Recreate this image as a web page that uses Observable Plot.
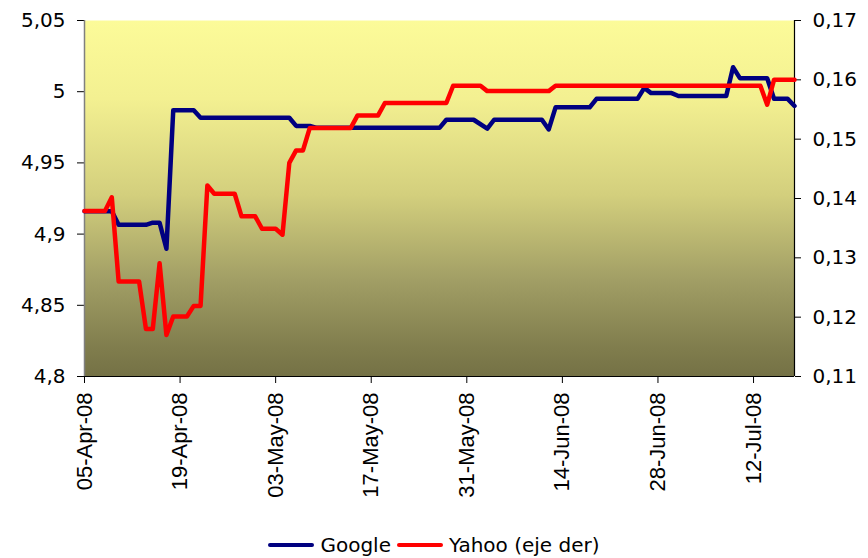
<!DOCTYPE html>
<html><head><meta charset="utf-8">
<script src="https://cdn.jsdelivr.net/npm/d3@7"></script>
<script src="https://cdn.jsdelivr.net/npm/@observablehq/plot@0.6"></script>
<style>
html,body{margin:0;padding:0;background:#fff;}
#chart svg{display:block}
.legend{display:flex;justify-content:center;align-items:center;height:50px;font-family:"DejaVu Sans";font-size:20px;color:#000;}
.item{display:flex;align-items:center;margin:0 3px}
.sw{display:inline-block;width:46px;height:4px;margin-right:6px;border-radius:2px}
</style></head><body>
<div id="chart"></div>
<div class="legend">
  <span class="item"><span class="sw" style="background:#000080"></span>Google</span>
  <span class="item"><span class="sw" style="background:#ff0000"></span>Yahoo (eje der)</span>
</div>
<script>
// ---- DATA ----
const googleDates = ["2008-04-05","2008-04-09","2008-04-10","2008-04-14","2008-04-15","2008-04-16","2008-04-17","2008-04-18","2008-04-21","2008-04-22","2008-05-05","2008-05-06","2008-05-08","2008-05-09","2008-05-27","2008-05-28","2008-06-01","2008-06-03","2008-06-04","2008-06-11","2008-06-12","2008-06-13","2008-06-18","2008-06-19","2008-06-25","2008-06-26","2008-06-27","2008-06-30","2008-07-01","2008-07-08","2008-07-09","2008-07-10","2008-07-14","2008-07-15","2008-07-17","2008-07-18"];
const googleValues = [4.916,4.916,4.9065,4.9065,4.908,4.908,4.8897,4.987,4.987,4.9817,4.9817,4.976,4.976,4.9746,4.9746,4.9803,4.9803,4.974,4.9803,4.9803,4.9735,4.989,4.989,4.995,4.995,5.0027,4.999,4.999,4.997,4.997,5.0172,5.0095,5.0095,4.995,4.995,4.990];
const yahooDates = ["2008-04-05","2008-04-08","2008-04-09","2008-04-10","2008-04-13","2008-04-14","2008-04-15","2008-04-16","2008-04-17","2008-04-18","2008-04-20","2008-04-21","2008-04-22","2008-04-23","2008-04-24","2008-04-27","2008-04-28","2008-04-30","2008-05-01","2008-05-03","2008-05-04","2008-05-05","2008-05-06","2008-05-07","2008-05-08","2008-05-14","2008-05-15","2008-05-18","2008-05-19","2008-05-28","2008-05-29","2008-06-02","2008-06-03","2008-06-12","2008-06-13","2008-07-13","2008-07-14","2008-07-15","2008-07-18"];
const yahooValues = [0.1379,0.1379,0.1402,0.126,0.126,0.118,0.118,0.1291,0.117,0.1201,0.1201,0.1219,0.1219,0.1422,0.1408,0.1408,0.137,0.137,0.1349,0.1349,0.1339,0.146,0.1481,0.1481,0.1519,0.1519,0.154,0.154,0.1561,0.1561,0.159,0.159,0.1581,0.1581,0.159,0.159,0.1558,0.16,0.16];
const leftTicks = [4.8, 4.85, 4.9, 4.95, 5, 5.05];
const rightTicks = [0.11, 0.12, 0.13, 0.14, 0.15, 0.16, 0.17];
const xTickLabels = ["05-Apr-08","19-Apr-08","03-May-08","17-May-08","31-May-08","14-Jun-08","28-Jun-08","12-Jul-08"];

// ---- BUILD ----
const parseISO = d3.utcParse("%Y-%m-%d");
const parseTick = d3.utcParse("%d-%b-%y");
const google = googleDates.map((d, i) => ({date: parseISO(d), value: googleValues[i]}));
const yahoo = yahooDates.map((d, i) => ({date: parseISO(d), value: yahooValues[i]}));
const xTicks = xTickLabels.map(parseTick);
const toLeft = d3.scaleLinear().domain([0.11, 0.17]).range([4.8, 5.05]);
const x0 = google[0].date, x1 = google[google.length - 1].date;
const fmtL = d => String(+d.toFixed(2)).replace(".", ",");
const fmtR = d => toLeft.invert(d).toFixed(2).replace(".", ",");

const svg = Plot.plot({
  width: 868, height: 520,
  marginLeft: 84, marginRight: 74, marginTop: 20, marginBottom: 144,
  x: {type: "utc", domain: [x0, x1], label: null},
  y: {domain: [4.8, 5.05], label: null},
  style: {fontFamily: "DejaVu Sans", fontSize: "20px", color: "#000", background: "transparent"},
  marks: [
    Plot.frame({fill: "#ddd", stroke: "none"}),
    Plot.axisY(leftTicks, {anchor: "left", tickSize: 7, tickPadding: 12, tickFormat: fmtL, label: null, fontSize: 20}),
    Plot.axisY(rightTicks.map(toLeft), {anchor: "right", tickSize: 6, tickPadding: 12, tickFormat: fmtR, label: null, fontSize: 20}),
    Plot.axisX(xTicks, {anchor: "bottom", tickRotate: -90, tickSize: 7, tickPadding: 9, tickFormat: d3.utcFormat("%d-%b-%y"), label: null, fontFamily: "Liberation Sans", fontSize: 22}),
    Plot.ruleX([x0], {stroke: "#808080", strokeWidth: 1.5}),
    Plot.ruleX([x1], {stroke: "#000", strokeWidth: 1.2}),
    Plot.ruleY([4.8], {stroke: "#000", strokeWidth: 1.2}),
    Plot.line(google, {x: "date", y: "value", stroke: "#000080", strokeWidth: 4.5, strokeLinejoin: "round", strokeLinecap: "round"}),
    Plot.line(yahoo, {x: "date", y: d => toLeft(d.value), stroke: "#ff0000", strokeWidth: 4.5, strokeLinejoin: "round", strokeLinecap: "round"})
  ]
});

// gradient background for the plot area
const ns = "http://www.w3.org/2000/svg";
const defs = document.createElementNS(ns, "defs");
const grad = document.createElementNS(ns, "linearGradient");
grad.setAttribute("id", "bg"); grad.setAttribute("x1", "0"); grad.setAttribute("y1", "0");
grad.setAttribute("x2", "0"); grad.setAttribute("y2", "1");
[[0, "#FCFB99"], [0.22, "#F3F091"], [0.49, "#D3CF7D"], [0.73, "#A19E65"], [0.92, "#807D4D"], [1, "#747145"]].forEach(([o, c]) => {
  const s = document.createElementNS(ns, "stop");
  s.setAttribute("offset", o); s.setAttribute("stop-color", c);
  grad.appendChild(s);
});
defs.appendChild(grad);
svg.insertBefore(defs, svg.firstChild);
const fr = svg.querySelector('[aria-label="frame"]');
const rect = fr && (fr.tagName.toLowerCase() === "rect" ? fr : fr.querySelector("rect"));
if (rect) { rect.setAttribute("fill", "url(#bg)"); rect.style.fill = "url(#bg)"; }

// Arial-like face for the rotated date labels
svg.querySelectorAll('[aria-label="x-axis tick label"], [aria-label="x-axis tick label"] text').forEach(el => {
  el.style.fontFamily = '"Liberation Sans", Arial, sans-serif';
  el.setAttribute("font-family", '"Liberation Sans", Arial, sans-serif');
});

document.getElementById("chart").appendChild(svg);
</script>
</body></html>
